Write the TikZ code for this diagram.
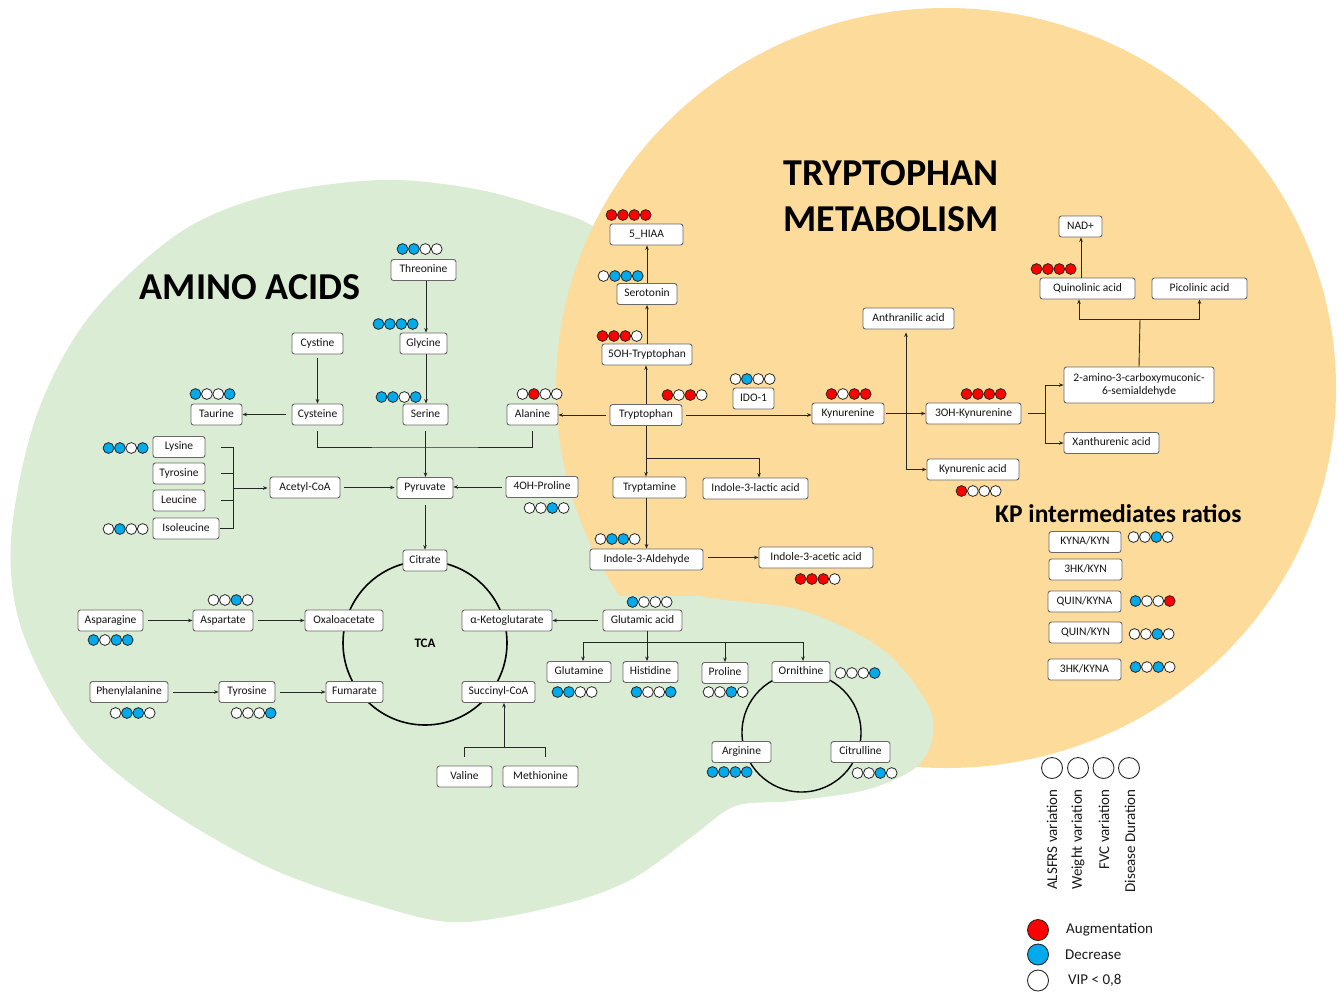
\documentclass[tikz,border=0pt]{standalone}
\usepackage{fontspec}
\setmainfont{Carlito}
\usetikzlibrary{arrows.meta,calc}
\definecolor{dR}{RGB}{255,0,0}
\definecolor{dB}{RGB}{0,170,235}
\definecolor{bgG}{RGB}{218,236,212}
\definecolor{bgO}{RGB}{252,219,155}
\definecolor{bxE}{RGB}{105,105,105}
\newcommand\drow[6]{%
  \foreach \cc [count=\ii from 0] in {#3,#4,#5,#6}{%
    \filldraw[fill=\cc, draw=black!85, line width=0.8pt] (#1+\ii*11.4,#2) circle[radius=5.4];}}
\begin{document}
\begin{tikzpicture}[x=1pt,y=-1pt,
  bx/.style={draw=bxE, fill=white, rounded corners=2.5pt, line width=0.9pt,
    minimum height=21pt, inner xsep=3pt, inner ysep=0pt, text height=8pt, text depth=2.2pt,
    font=\fontsize{11.5}{13.5}\selectfont, text=black!92},
  ln/.style={draw=black!85, line width=0.9pt},
  arr/.style={ln, -{Stealth[length=4.5pt,width=3.6pt]}},
  ttl/.style={font=\bfseries\fontsize{38}{40}\selectfont, text=black, inner sep=0pt},
  lgc/.style={circle, draw=black!85, line width=0.9pt, minimum size=21pt, inner sep=0pt},
  lgt/.style={font=\fontsize{15}{17}\selectfont, text=black!90, inner sep=0pt}]
\useasboundingbox (0,0) rectangle (1339,994);
% backgrounds
\fill[bgG] plot[smooth cycle, tension=0.55] coordinates {(380,180) (470,188) (545,208) (600,232) (640,300) (650,420) (640,540) (687,592) (800,610) (883,650) (928,705) (932,740) (915,768) (865,790) (790,801) (735,806) (690,838) (630,880) (560,905) (460,922) (383,907) (268,867) (153,800) (77,733) (23,633) (11,540) (36,417) (89,317) (179,233) (270,195)};
\fill[bgO] (946,388) ellipse [x radius=390, y radius=380];
\begin{scope}
\clip (0,596) rectangle (1339,994);
\fill[bgG] plot[smooth cycle, tension=0.55] coordinates {(380,180) (470,188) (545,208) (600,232) (640,300) (650,420) (640,540) (687,592) (800,610) (883,650) (928,705) (932,740) (915,768) (865,790) (790,801) (735,806) (690,838) (630,880) (560,905) (460,922) (383,907) (268,867) (153,800) (77,733) (23,633) (11,540) (36,417) (89,317) (179,233) (270,195)};
\end{scope}
% titles
\node[ttl] (tAA) at (250,287) {AMINO ACIDS};
\node[ttl] (tTR) at (891,173) {TRYPTOPHAN};
\node[ttl] (tME) at (891,219) {METABOLISM};
\node[font=\bfseries\fontsize{25.5}{27}\selectfont, anchor=base west, inner sep=0pt] (tKP) at (995,522) {KP intermediates ratios};
% cycles
\draw[line width=1.6pt] (425,643) circle[radius=82];
\node[font=\bfseries\fontsize{13}{15}\selectfont] (tca) at (425,643) {TCA};
\draw[line width=1.4pt] (801.5,732.5) circle[radius=59.5];
% amino acid boxes
\node[bx, minimum width=65pt] (thr) at (423.5,270) {Threonine};
\node[bx, minimum width=47pt] (gly) at (423.5,343.5) {Glycine};
\node[bx, minimum width=51pt] (cys2) at (317.5,343.5) {Cystine};
\node[bx, minimum width=51pt] (tau) at (216.5,414.5) {Taurine};
\node[bx, minimum width=51pt] (cys) at (317.5,414.5) {Cysteine};
\node[bx, minimum width=45pt] (ser) at (425.5,414.5) {Serine};
\node[bx, minimum width=51pt] (ala) at (532.5,414.5) {Alanine};
\node[bx, minimum width=52pt] (lys) at (179,447) {Lysine};
\node[bx, minimum width=52pt] (tyr) at (179,473.5) {Tyrosine};
\node[bx, minimum width=52pt] (leu) at (179,500.5) {Leucine};
\node[bx, minimum width=66pt] (ile) at (186,528.5) {Isoleucine};
\node[bx, minimum width=70pt] (acc) at (305,487.5) {Acetyl-CoA};
\node[bx, minimum width=56pt] (pyr) at (425,488) {Pyruvate};
\node[bx, minimum width=72pt] (hp) at (542,487) {4OH-Proline};
\node[bx, minimum width=44pt] (cit) at (425,560.5) {Citrate};
\node[bx, minimum width=78pt] (oxa) at (344,620.5) {Oxaloacetate};
\node[bx, minimum width=90pt] (akg) at (507,620.5) {α-Ketoglutarate};
\node[bx, minimum width=57pt] (fum) at (354.5,692) {Fumarate};
\node[bx, minimum width=73pt] (suc) at (498.5,692) {Succinyl-CoA};
\node[bx, minimum width=65pt] (asn) at (110.5,620.5) {Asparagine};
\node[bx, minimum width=60pt] (asp) at (223,620.5) {Aspartate};
\node[bx, minimum width=78pt] (phe) at (129,692) {Phenylalanine};
\node[bx, minimum width=56pt] (tyr2) at (247,692) {Tyrosine};
\node[bx, minimum width=55pt] (val) at (464.5,776.5) {Valine};
\node[bx, minimum width=75pt] (met) at (540.5,776.5) {Methionine};
\node[bx, minimum width=79pt] (glu) at (642.5,620.5) {Glutamic acid};
\node[bx, minimum width=64pt] (gln) at (579,672) {Glutamine};
\node[bx, minimum width=55pt] (his) at (650.5,672) {Histidine};
\node[bx, minimum width=46pt] (pro) at (725,673) {Proline};
\node[bx, minimum width=58pt] (orn) at (801,672) {Ornithine};
\node[bx, minimum width=59pt] (arg) at (741.5,752) {Arginine};
\node[bx, minimum width=59pt] (ctl) at (860.5,752) {Citrulline};
% tryptophan boxes
\node[bx, minimum width=73pt] (hiaa) at (646.5,234.5) {5\_HIAA};
\node[bx, minimum width=60pt] (sro) at (647,294) {Serotonin};
\node[bx, minimum width=90pt] (oht) at (647,354.5) {5OH-Tryptophan};
\node[bx, minimum width=72pt] (trp) at (646,415) {Tryptophan};
\node[bx, minimum width=41pt] (ido) at (753.5,398.5) {IDO-1};
\node[bx, minimum width=73pt] (tam) at (649.5,487.5) {Tryptamine};
\node[bx, minimum width=105pt] (ila) at (755.5,488.5) {Indole-3-lactic acid};
\node[bx, minimum width=113pt] (i3a) at (646.5,559.5) {Indole-3-Aldehyde};
\node[bx, minimum width=114pt] (iaa) at (816,557.5) {Indole-3-acetic acid};
\node[bx, minimum width=43pt] (nad) at (1080.5,226.5) {NAD+};
\node[bx, minimum width=95pt] (qui) at (1087.5,288.5) {Quinolinic acid};
\node[bx, minimum width=95pt] (pic) at (1199.5,288.5) {Picolinic acid};
\node[bx, minimum width=91pt] (ant) at (908.5,318.5) {Anthranilic acid};
\node[bx, minimum width=72pt] (kyn) at (848,413.5) {Kynurenine};
\node[bx, minimum width=95pt] (ohk) at (973.5,413.5) {3OH-Kynurenine};
\node[bx, minimum width=150pt, minimum height=36pt, text height=, text depth=, align=center, font=\fontsize{11.5}{13.5}\selectfont] (ams) at (1139,385) {2-amino-3-carboxymuconic-\\6-semialdehyde};
\node[bx, minimum width=95pt] (xan) at (1111.5,443) {Xanthurenic acid};
\node[bx, minimum width=92pt] (kna) at (973,469.5) {Kynurenic acid};
% ratio boxes
\node[bx, minimum width=72pt] (r1) at (1085,542) {KYNA/KYN};
\node[bx, minimum width=73pt] (r2) at (1085.5,569.5) {3HK/KYN};
\node[bx, minimum width=73pt] (r3) at (1084.5,601.5) {QUIN/KYNA};
\node[bx, minimum width=73pt] (r4) at (1085.5,632.5) {QUIN/KYN};
\node[bx, minimum width=73pt] (r5) at (1084.5,669.5) {3HK/KYNA};
% connectors amino acids
\draw[arr] ([xshift=2.5pt]thr.south) -- ([xshift=2.5pt]thr.south |- gly.north);
\draw[arr] ([xshift=2.5pt]gly.south) -- ([xshift=2.5pt]gly.south |- ser.north);
\draw[arr] ([yshift=-4pt]cys2.south) -- (cys.north);
\draw[arr, shorten <=6pt] (cys.west) -- (tau.east);
\draw[arr, shorten <=4pt] (trp.west) -- (trp.west -| ala.east);
\coordinate (bk) at (425,447);
\draw[ln, shorten <=6pt, shorten >=6pt] (cys.south) |- (bk) -| (ala.south);
\draw[arr, shorten <=6pt] (ser.south) -- (ser.south |- pyr.north);
\coordinate (lb) at (233,488);
\draw[ln] ([xshift=16pt]lys.east) -- (lys.east -| lb) -- (ile.east -| lb) -- ([xshift=1pt]ile.east);
\draw[ln] ([xshift=16pt]tyr.east) -- (tyr.east -| lb);
\draw[ln] ([xshift=16pt]leu.east) -- (leu.east -| lb);
\draw[arr, shorten >=2pt] (lb) -- (lb -| acc.west);
\draw[arr, shorten <=4pt, shorten >=2pt] (acc.east) -- (acc.east -| pyr.west);
\draw[arr, shorten <=4pt] (hp.west) -- (hp.west -| pyr.east);
\draw[arr, shorten <=6pt] (pyr.south) -- (cit.north);
\draw[arr, shorten <=5pt] (asn.east) -- (asp.west);
\draw[arr, shorten <=5pt] (asp.east) -- (oxa.west);
\draw[arr, shorten <=5pt] (phe.east) -- (tyr2.west);
\draw[arr, shorten <=5pt] (tyr2.east) -- (fum.west);
\draw[arr, shorten <=5pt] (glu.west) -- (akg.east);
\coordinate (vt) at (464,757);
\coordinate (mt) at (545,757);
\coordinate (vm) at (504,747);
\draw[ln] (vt) |- (vm) -| (mt);
\draw[arr] (vm) -- (vm |- suc.south);
\coordinate (gb) at (647,642);
\coordinate (gL) at (583,642);
\coordinate (gR) at (803,642);
\draw[ln] ([xshift=4.5pt]glu.south) -- (gb);
\draw[ln] (gL) -- (gR);
\draw[arr] (gL) -- (gL |- gln.north);
\draw[arr] (gb) -- (gb |- his.north);
\draw[arr] (gb -| pro.north) -- (pro.north);
\draw[arr] (gR) -- (gR |- orn.north);
% connectors tryptophan
\draw[arr] (trp.north) -- (trp.north |- oht.south);
\draw[arr] (oht.north) -- (oht.north |- sro.south);
\draw[arr] (sro.north) -- (sro.north |- hiaa.south);
\draw[arr, shorten <=4pt] (trp.east) -- (trp.east -| kyn.west);
\coordinate (tb) at (646,458);
\draw[arr] (trp.south) -- (trp.south |- tam.north);
\draw[arr] (tb) -| ([xshift=3.5pt]ila.north);
\draw[arr] ([xshift=-3pt]tam.south) -- ([xshift=-3pt]tam.south |- i3a.north);
\draw[arr, shorten <=5pt] (i3a.east |- iaa.west) -- (iaa.west);
\draw[arr, shorten <=2pt] (kyn.east) -- (ohk.west);
\coordinate (ka) at (906,469.5);
\draw[arr, shorten >=3pt] (ka) -- (ka |- ant.south);
\draw[arr] (ka) -- (kna.west);
\coordinate (ob) at (1045.5,413.5);
\draw[ln] ([xshift=7pt]ohk.east) -- (ob);
\draw[arr] (ob) |- (ams.west);
\draw[arr] (ob) |- (xan.west);
\coordinate (qp) at (1140,319);
\draw[ln] (ams.north) -- (qp);
\draw[arr] (qp) -| ([xshift=-8.5pt]qui.south);
\draw[arr] (qp) -| (pic.south);
\draw[arr] ([xshift=-6.5pt]qui.north) -- ([xshift=-6.5pt]qui.north |- nad.south);
% dots
\drow{402.5}{249}{dB}{dB}{white}{white}
\drow{378.5}{324}{dB}{dB}{dB}{dB}
\drow{195.5}{394}{dB}{white}{white}{dB}
\drow{381.5}{397}{dB}{dB}{white}{dB}
\drow{522.5}{394}{white}{dR}{white}{white}
\drow{108.5}{448}{dB}{dB}{white}{dB}
\drow{108.5}{529}{white}{dB}{white}{white}
\drow{529.5}{508}{white}{white}{dB}{white}
\drow{213.5}{600}{white}{white}{dB}{white}
\drow{93.5}{640}{dB}{white}{dB}{dB}
\drow{115.5}{713}{white}{dB}{dB}{white}
\drow{236.5}{713}{white}{white}{white}{dB}
\drow{632.5}{602}{dB}{white}{white}{white}
\drow{557.5}{692}{dB}{dB}{white}{white}
\drow{636.5}{692}{dB}{white}{white}{dB}
\drow{708.5}{692}{white}{white}{dB}{white}
\drow{840.5}{673}{white}{white}{white}{dB}
\drow{712.5}{772}{dB}{dB}{dB}{dB}
\drow{857.5}{773}{white}{white}{dB}{white}
\drow{611.5}{215}{dR}{dR}{dR}{dR}
\drow{603.5}{276}{white}{dB}{dB}{dB}
\drow{602.5}{336}{dR}{dR}{dR}{white}
\drow{667.5}{395}{dR}{white}{dR}{white}
\drow{735.5}{379}{white}{dB}{white}{white}
\drow{831.5}{394}{dR}{white}{dR}{dR}
\drow{966.5}{394}{dR}{dR}{dR}{dR}
\drow{1036.5}{269}{dR}{dR}{dR}{dR}
\drow{961.5}{491}{dR}{white}{white}{white}
\drow{600.5}{539}{white}{dB}{dB}{white}
\drow{800.5}{579}{dR}{dR}{dR}{white}
\drow{1133.5}{537}{white}{white}{dB}{white}
\drow{1135.5}{601}{dB}{white}{white}{dR}
\drow{1134.5}{634}{white}{white}{dB}{white}
\drow{1135.5}{667}{dB}{white}{dB}{white}
% legend
\node[lgc, fill=white] (l1) at (1052,768) {};
\node[lgc, fill=white] (l2) at (1078,768) {};
\node[lgc, fill=white] (l3) at (1103.5,768) {};
\node[lgc, fill=white] (l4) at (1129,768) {};
\node[lgt, rotate=90, anchor=east] (lt1) at (1052,789) {ALSFRS variation};
\node[lgt, rotate=90, anchor=east] (lt2) at (1078,789) {Weight variation};
\node[lgt, rotate=90, anchor=east] (lt3) at (1104,789) {FVC variation};
\node[lgt, rotate=90, anchor=east] (lt4) at (1130,789) {Disease Duration};
\node[lgc, fill=dR] (lr) at (1038,930) {};
\node[lgc, fill=dB] (lb2) at (1038,954.5) {};
\node[lgc, fill=white] (lw) at (1038,980.5) {};
\node[lgt, anchor=west] (ltr) at (1066,930) {Augmentation};
\node[lgt, anchor=west] (ltb) at (1065,954.5) {Decrease};
\node[lgt, anchor=west] (ltw) at (1068,980.5) {VIP < 0,8};
\end{tikzpicture}
\end{document}
